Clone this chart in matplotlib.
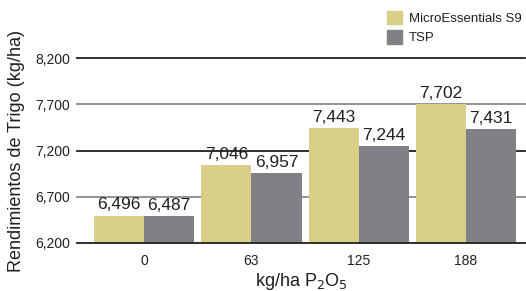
import matplotlib.pyplot as plt
import matplotlib.patches as mpatches
import numpy as np

plt.rcParams['font.family'] = ['Liberation Sans', 'DejaVu Sans']

# data
doses = ['0', '63', '125', '188']
micro = [6496, 7046, 7443, 7702]
tsp = [6487, 6957, 7244, 7431]
yticks = [6200, 6700, 7200, 7700, 8200]

yellow = '#d9cf88'
gray = '#808185'
txt = '#231f20'

fig = plt.figure(figsize=(5.26, 2.91), dpi=100)
ax = fig.add_axes([77 / 526, 48 / 291, 448 / 526, 185 / 291])

x = np.arange(len(doses))
w = 0.467

# gridlines behind bars, alternating gray / black
for i, yv in enumerate(yticks[1:]):
    c = txt if i % 2 == 1 else '#8a8a8a'
    ax.axhline(yv, color=c, lw=1.3, zorder=0, clip_on=False)

b1 = ax.bar(x - w / 2, micro, w, color=yellow, zorder=2)
b2 = ax.bar(x + w / 2, tsp, w, color=gray, zorder=2)

for bars, vals in ((b1, micro), (b2, tsp)):
    for r, v in zip(bars, vals):
        ax.text(r.get_x() + r.get_width() / 2, v + 35, f'{v:,}',
                ha='center', va='bottom', fontsize=12.5, color=txt)

ax.set_xlim(-0.626, 3.55)
ax.set_ylim(6200, 8200)
ax.set_xticks(x)
ax.set_xticklabels(doses, fontsize=10, color=txt)
ax.set_yticks(yticks)
ax.set_yticklabels([f'{v:,}' for v in yticks], fontsize=10, color=txt)
ax.tick_params(axis='both', length=0)
ax.tick_params(axis='y', pad=5)
ax.tick_params(axis='x', pad=8)

for s in ['top', 'right', 'left']:
    ax.spines[s].set_visible(False)
ax.spines['bottom'].set_color(txt)
ax.spines['bottom'].set_linewidth(1.3)
ax.spines['bottom'].set_zorder(3)

ax.set_ylabel('Rendimientos de Trigo (kg/ha)', fontsize=13, color=txt, labelpad=7)
ax.set_xlabel('kg/ha P$_2$O$_5$', fontsize=13, color=txt, labelpad=2)

handles = [mpatches.Patch(color=yellow, label='MicroEssentials S9'),
           mpatches.Patch(color=gray, label='TSP')]
fig.legend(handles=handles, loc='upper left', bbox_to_anchor=(0.715, 1.0),
           frameon=False, fontsize=9.5, handlelength=1.2, handleheight=1.2,
           handletextpad=0.5, labelspacing=0.4, borderaxespad=0.4,
           labelcolor=txt)

fig.savefig('out.png', dpi=100)
